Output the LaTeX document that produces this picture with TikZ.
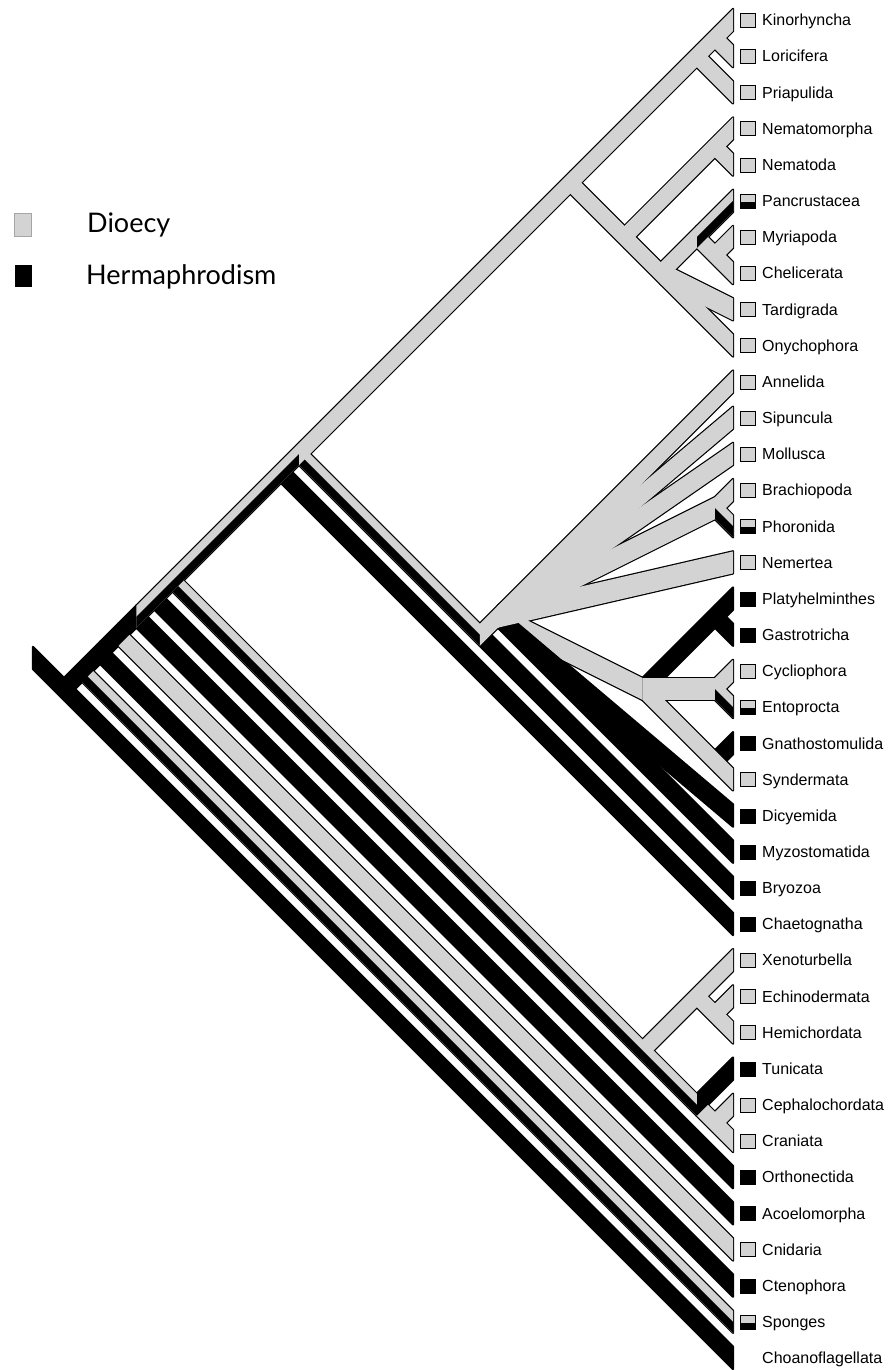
\documentclass[tikz,border=0pt]{standalone}
\usepackage{fontspec}
\setmainfont{Liberation Sans}
\newfontfamily\legendfont{Lato}
\usetikzlibrary{calc}
\definecolor{dio}{RGB}{211,211,211}

\begin{document}
\begin{tikzpicture}[x=1pt,y=-1pt,
	halo/.style={draw=black,line width=2.4pt,line join=round},
	halo-dio/.style={halo},halo-her/.style={halo},halo-mix/.style={halo},
	halo-dio-lo/.style={},halo-her-lo/.style={},halo-mix-lo/.style={},
	body-dio/.style={fill=dio},body-her/.style={fill=black},body-mix/.style={fill=dio},
	body-dio-lo/.style={},body-her-lo/.style={},body-mix-lo/.style={fill=black},
	mk/.style={minimum width=15pt,minimum height=14pt,inner sep=0pt,draw=black,line width=1.2pt},
	mk-dio/.style={mk,fill=dio},mk-her/.style={mk,fill=black},
	mk-mix/.style={mk,fill=dio,path picture={\fill[black] (path picture bounding box.west) rectangle (path picture bounding box.south east);}},
	mk-none/.style={},
	lab/.style={anchor=base west,inner sep=0pt,font=\fontsize{16}{16}\selectfont},
	key/.style={minimum width=17pt,minimum height=23pt,inner sep=0pt},
	keytext/.style={anchor=base west,inner sep=0pt,font=\legendfont\fontsize{27}{27}\selectfont}]
	\useasboundingbox (0,0) rectangle (891,1370);
	\foreach \nm/\lab/\st [count=\i from 0] in {kin/Kinorhyncha/dio, lor/Loricifera/dio, pri/Priapulida/dio, nmm/Nematomorpha/dio, nmt/Nematoda/dio, pan/Pancrustacea/mix, myr/Myriapoda/dio, che/Chelicerata/dio, tar/Tardigrada/dio, ony/Onychophora/dio, ann/Annelida/dio, sip/Sipuncula/dio, mol/Mollusca/dio, bra/Brachiopoda/dio, pho/Phoronida/mix, nmr/Nemertea/dio, pla/Platyhelminthes/her, gas/Gastrotricha/her, cyc/Cycliophora/dio, ent/Entoprocta/mix, gna/Gnathostomulida/her, syn/Syndermata/dio, dic/Dicyemida/her, myz/Myzostomatida/her, bry/Bryozoa/her, cha/Chaetognatha/her, xen/Xenoturbella/dio, ech/Echinodermata/dio, hem/Hemichordata/dio, tun/Tunicata/her, cep/Cephalochordata/dio, cra/Craniata/dio, ort/Orthonectida/her, aco/Acoelomorpha/her, cni/Cnidaria/dio, cte/Ctenophora/her, spo/Sponges/mix, cho/Choanoflagellata/none} {
		\coordinate (\nm) at (733,{20+36.16*\i});
		\node[mk-\st] (\nm-mk) at (748,{round(20+36.16*\i)+0.5}) {};
		\node[lab] (\nm-lab) at (762,{25.8+36.16*\i}) {\lab};
	}
	\foreach \nm/\i/\j in {root/0/37, met/0/36, n35/0/35, n34/0/34, n33/0/33, n32/0/32, n31/0/31, n25/0/25, n24/0/24, ecd/0/9, scal/0/2, kl/0/1, c39/3/9, nn/3/4, par/5/9, art/5/7, mc/6/7, spi/10/24, lop/10/23, bp/13/14, pz/16/21, pg/16/17, ce/18/19, gs/20/21, deu/26/31, xa/26/28, eh/27/28, ch/29/31, cc/30/31}
		\coordinate (\nm) at ({733-18.08*(\j-\i)},{20+18.08*(\i+\j)});
	\coordinate (stem) at (33,658);
	\foreach \pass in {halo,body}
		\foreach \a/\b/\c in {stem/cho/her, met/spo/mix, n35/cte/her, n34/cni/dio, n33/aco/her, n32/ort/her,
			eh/ech/dio, xa/hem/dio, deu/xen/dio, cc/cep/dio, ch/cra/dio, ch/tun/her, n31/ch/mix, n25/cha/her,
			pg/gas/her, pz/pla/her, gs/gna/her, pz/syn/dio, ce/cyc/dio, ce/ent/mix, pz/ce/dio,
			lop/pz/dio, lop/dic/her, lop/myz/her, bp/bra/dio, bp/pho/mix, lop/bp/dio, lop/sip/dio, lop/mol/dio, lop/nmr/dio,
			spi/bry/her, n24/spi/mix, spi/ann/dio,
			kl/lor/dio, scal/pri/dio, nn/nmt/dio, c39/nmm/dio, mc/myr/dio, art/che/dio, art/pan/mix, par/art/dio, par/tar/dio, ecd/ony/dio,
			root/n33/her, n33/n24/mix, n24/kin/dio}
		{
			\path[\pass-\c] ($(\a)+(0,-11)$) -- ($(\b)+(0,-11)$) -- ($(\b)+(0,11)$) -- ($(\a)+(0,11)$) -- cycle;
			\path[\pass-\c-lo] (\a) -- (\b) -- ($(\b)+(0,11)$) -- ($(\a)+(0,11)$) -- cycle;
		}
	\node[key,draw=gray!70,fill=dio] (key-dio) at (23,225) {};
	\node[key,fill=black,minimum height=22pt] (key-her) at (23.5,276) {};
	\node[keytext] (key-dio-txt) at (87,232) {Dioecy};
	\node[keytext] (key-her-txt) at (86,284) {Hermaphrodism};
\end{tikzpicture}
\end{document}
